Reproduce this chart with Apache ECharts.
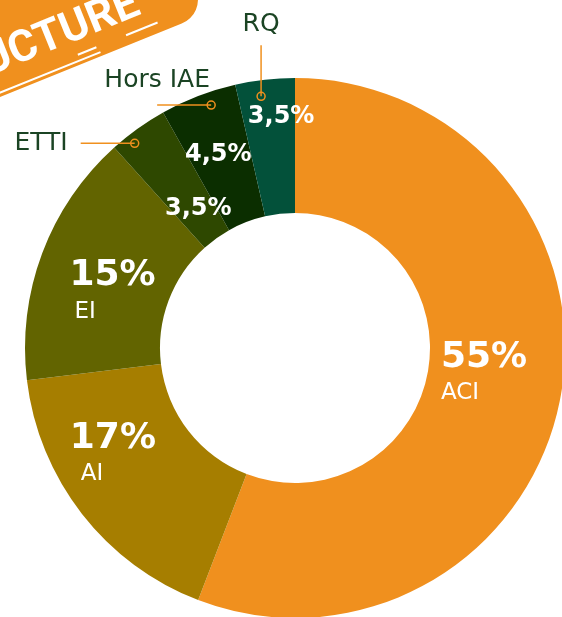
<!DOCTYPE html>
<html>
<head>
<meta charset="utf-8">
<script src="https://cdn.jsdelivr.net/npm/echarts@6/dist/echarts.min.js"></script>
<style>
  html, body { margin: 0; padding: 0; background: #ffffff; }
  #chart { width: 562px; height: 617px; }
</style>
</head>
<body>
<div id="chart"></div>
<script>
const categories = ['ACI', 'AI', 'EI', 'ETTI', 'Hors IAE', 'RQ']
const values = [55, 17, 15, 3.5, 4.5, 3.5]
const colors = ['#F0901E', '#A67E00', '#626400', '#2E4800', '#0B2E00', '#03513A']
// noms affichés à l'extérieur (petites parts)
const outsideNames = ['ETTI', 'Hors IAE', 'RQ']

// mise en page
const cx = 295
const cy = 348
const rIn = 135
const rOut = 270
const labelOffsets = [[-13, -13], [-20, -21], [10, 15], [23, 28], [-3, -1], [9, -27]]
const namePads = [0, 11, 5]
const callouts = {
  'ETTI': { at: 0.31, r: 260, dir: 'left', len: 54 },
  'Hors IAE': { at: 0.62, r: 257, dir: 'left', len: 54 },
  'RQ': { at: 0.4, r: 254, dir: 'up', len: 51 }
}
const orange = '#F0901E'
const textGreen = '#1B4424'
const font = '"DejaVu Sans", sans-serif'

const fmt = (v) => String(v).replace('.', ',') + '%'

const chart = echarts.init(document.getElementById('chart'), null, { renderer: 'canvas' })

const pieData = categories.map((name, i) => {
  const small = outsideNames.includes(name)
  return {
    name: name,
    value: values[i],
    itemStyle: { color: colors[i] },
    label: {
      offset: labelOffsets[i],
      formatter: small
        ? '{s|' + fmt(values[i]) + '}'
        : '{p|' + fmt(values[i]) + '}\n{n' + i + '|' + name + '}'
    }
  }
})

const rich = {
  p: { fontSize: 36, fontWeight: 'bold', color: '#ffffff', fontFamily: font, align: 'left', lineHeight: 42 },
  s: { fontSize: 24, fontWeight: 'bold', color: '#ffffff', fontFamily: font }
}
namePads.forEach((pad, i) => {
  rich['n' + i] = { fontSize: 23, color: '#ffffff', fontFamily: font, align: 'left', padding: [0, 0, 0, pad], lineHeight: 30 }
})

// annotations extérieures : point, trait et nom, calculés à partir des valeurs
const total = values.reduce((a, b) => a + b, 0)
const outsideGraphics = []
let acc = 0
categories.forEach((name, i) => {
  const start = acc
  acc += values[i]
  const c = callouts[name]
  if (!c) return
  const ang = ((start + values[i] * c.at) / total) * 2 * Math.PI
  const px = cx + c.r * Math.sin(ang)
  const py = cy - c.r * Math.cos(ang)
  let ex = px
  let ey = py
  let text
  if (c.dir === 'up') {
    ey = py - c.len
    text = { x: ex, y: ey - 8, style: { textAlign: 'center', textVerticalAlign: 'bottom' } }
  } else {
    ex = px - c.len
    if (name === 'ETTI') {
      text = { x: ex - 13, y: ey, style: { textAlign: 'right', textVerticalAlign: 'middle' } }
    } else {
      text = { x: ex, y: ey - 25, style: { textAlign: 'center', textVerticalAlign: 'middle' } }
    }
  }
  outsideGraphics.push({
    type: 'line',
    shape: { x1: px, y1: py, x2: ex, y2: ey },
    style: { stroke: orange, lineWidth: 1.5 },
    z: 10
  })
  outsideGraphics.push({
    type: 'circle',
    shape: { cx: px, cy: py, r: 4 },
    style: { fill: 'transparent', stroke: orange, lineWidth: 1.5 },
    z: 11
  })
  outsideGraphics.push({
    type: 'text',
    x: text.x,
    y: text.y,
    style: Object.assign({ text: name, fill: textGreen, font: '25px ' + font }, text.style),
    z: 11
  })
})

// bandeau orange en haut à gauche
const banner = {
  type: 'group',
  x: 0,
  y: 97,
  rotation: 22 * Math.PI / 180,
  z: 20,
  children: [
    { type: 'rect', shape: { x: -60, y: -100, width: 282, height: 100, r: [0, 26, 26, 0] }, style: { fill: orange } },
    {
      type: 'text', x: 163, y: -13,
      style: { text: 'STRUCTURE', fill: '#ffffff', font: 'bold 44px Roboto, sans-serif', textAlign: 'right', textVerticalAlign: 'bottom' }
    },
    { type: 'line', shape: { x1: -10, y1: -4, x2: 110, y2: -4 }, style: { stroke: '#ffffff', lineWidth: 2 } },
    { type: 'line', shape: { x1: 88, y1: -10, x2: 108, y2: -10 }, style: { stroke: '#ffffff', lineWidth: 2 } },
    { type: 'line', shape: { x1: 140, y1: -10, x2: 174, y2: -10 }, style: { stroke: '#ffffff', lineWidth: 2 } }
  ]
}

const option = {
  animation: false,
  backgroundColor: '#ffffff',
  series: [
    {
      type: 'pie',
      center: [cx, cy],
      radius: [rIn, rOut],
      startAngle: 90,
      clockwise: true,
      silent: true,
      label: {
        show: true,
        position: 'inside',
        color: '#ffffff',
        fontFamily: font,
        rich: rich
      },
      labelLine: { show: false },
      data: pieData
    }
  ],
  graphic: [banner].concat(outsideGraphics)
}

option && chart.setOption(option)
</script>
</body>
</html>
